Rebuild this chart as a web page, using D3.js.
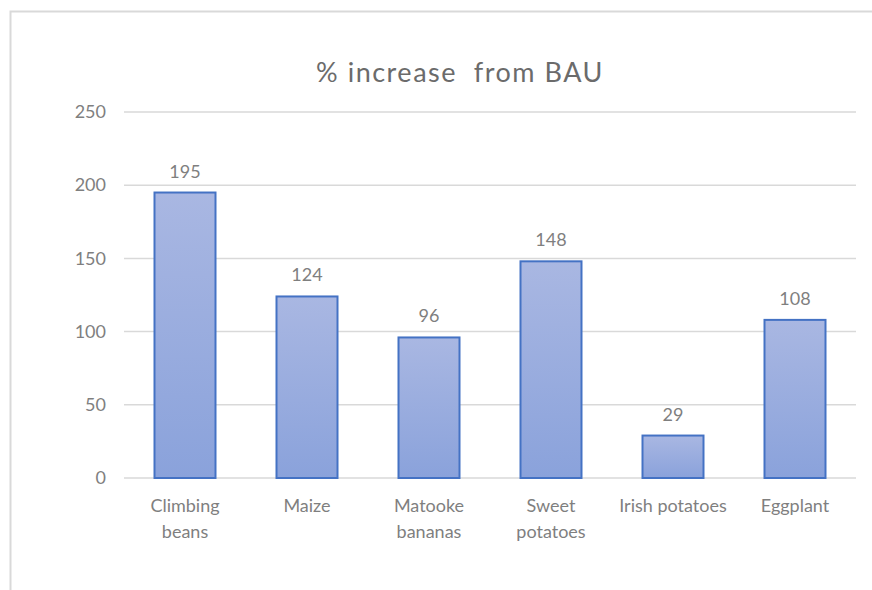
<!DOCTYPE html>
<html>
<head>
<meta charset="utf-8">
<script src="https://cdn.jsdelivr.net/npm/d3@7"></script>
<style>
  body { margin: 0; background: #fff; }
  svg text { font-family: Lato, "Open Sans", sans-serif; }
</style>
</head>
<body>
<div id="vis"></div>
<script>
// chart values
const categories = ["Climbing beans", "Maize", "Matooke bananas", "Sweet potatoes", "Irish potatoes", "Eggplant"];
const values = [195, 124, 96, 148, 29, 108];
const yTicks = [0, 50, 100, 150, 200, 250];
const labelLines = [["Climbing", "beans"], ["Maize"], ["Matooke", "bananas"], ["Sweet", "potatoes"], ["Irish potatoes"], ["Eggplant"]];

const FRAME_WIDTH = 872;
const FRAME_HEIGHT = 590;
const MARGINS = {left: 124, right: 16, top: 112, bottom: 112};

const VIS_WIDTH = FRAME_WIDTH - MARGINS.left - MARGINS.right;
const VIS_HEIGHT = FRAME_HEIGHT - MARGINS.top - MARGINS.bottom;

const svg = d3.select("#vis")
  .append("svg")
    .attr("width", FRAME_WIDTH)
    .attr("height", FRAME_HEIGHT);

// chart area border
svg.append("rect")
  .attr("x", 10.5).attr("y", 11.5)
  .attr("width", 880).attr("height", 600)
  .attr("fill", "none")
  .attr("stroke", "#d9d9d9")
  .attr("stroke-width", 2);

// gradient for bars
const grad = svg.append("defs").append("linearGradient")
  .attr("id", "barGrad")
  .attr("x1", 0).attr("y1", 0).attr("x2", 0).attr("y2", 1);
grad.append("stop").attr("offset", "0%").attr("stop-color", "#a9b7e2");
grad.append("stop").attr("offset", "100%").attr("stop-color", "#8aa2db");

const X_SCALE = d3.scaleBand()
  .domain(categories)
  .range([0, VIS_WIDTH])
  .paddingInner(0.5)
  .paddingOuter(0.25);

const Y_SCALE = d3.scaleLinear()
  .domain([0, 250])
  .range([VIS_HEIGHT, 0]);

const g = svg.append("g")
  .attr("transform", "translate(" + MARGINS.left + "," + MARGINS.top + ")");

// gridlines
g.append("g")
  .selectAll("line")
  .data(yTicks)
  .enter()
  .append("line")
    .attr("x1", 0).attr("x2", VIS_WIDTH)
    .attr("y1", d => Y_SCALE(d)).attr("y2", d => Y_SCALE(d))
    .attr("stroke", "#d9d9d9")
    .attr("stroke-width", 1.5);

// y axis labels
const yAxis = g.append("g")
  .call(d3.axisLeft(Y_SCALE).tickValues(yTicks).tickSize(0).tickPadding(18));
yAxis.select(".domain").remove();
yAxis.selectAll("text")
  .attr("fill", "#7f7f7f")
  .attr("font-size", "18px");

// bars
g.selectAll(".bar")
  .data(values)
  .enter()
  .append("rect")
    .attr("class", "bar")
    .attr("x", (d, i) => X_SCALE(categories[i]))
    .attr("y", d => Y_SCALE(d))
    .attr("width", X_SCALE.bandwidth())
    .attr("height", d => VIS_HEIGHT - Y_SCALE(d))
    .attr("fill", "url(#barGrad)")
    .attr("stroke", "#4472c4")
    .attr("stroke-width", 2);

// value labels
g.selectAll(".val")
  .data(values)
  .enter()
  .append("text")
    .attr("x", (d, i) => X_SCALE(categories[i]) + X_SCALE.bandwidth() / 2)
    .attr("y", d => Y_SCALE(d) - 15)
    .attr("text-anchor", "middle")
    .attr("fill", "#7f7f7f")
    .attr("font-size", "18px")
    .text(d => d);

// category labels
const cat = g.selectAll(".cat")
  .data(labelLines)
  .enter()
  .append("text")
    .attr("x", (d, i) => X_SCALE(categories[i]) + X_SCALE.bandwidth() / 2)
    .attr("y", VIS_HEIGHT + 34)
    .attr("text-anchor", "middle")
    .attr("fill", "#7f7f7f")
    .attr("font-size", "18px");
cat.selectAll("tspan")
  .data(d => d)
  .enter()
  .append("tspan")
    .attr("x", function() { return d3.select(this.parentNode).attr("x"); })
    .attr("dy", (d, i) => i === 0 ? 0 : 26)
    .text(d => d);

// title
svg.append("text")
  .attr("x", 460)
  .attr("y", 82)
  .attr("text-anchor", "middle")
  .attr("fill", "#6b6b6b")
  .attr("font-size", "27px")
  .attr("letter-spacing", "1.5px")
  .style("white-space", "pre")
  .text("% increase  from BAU");
</script>
</body>
</html>
